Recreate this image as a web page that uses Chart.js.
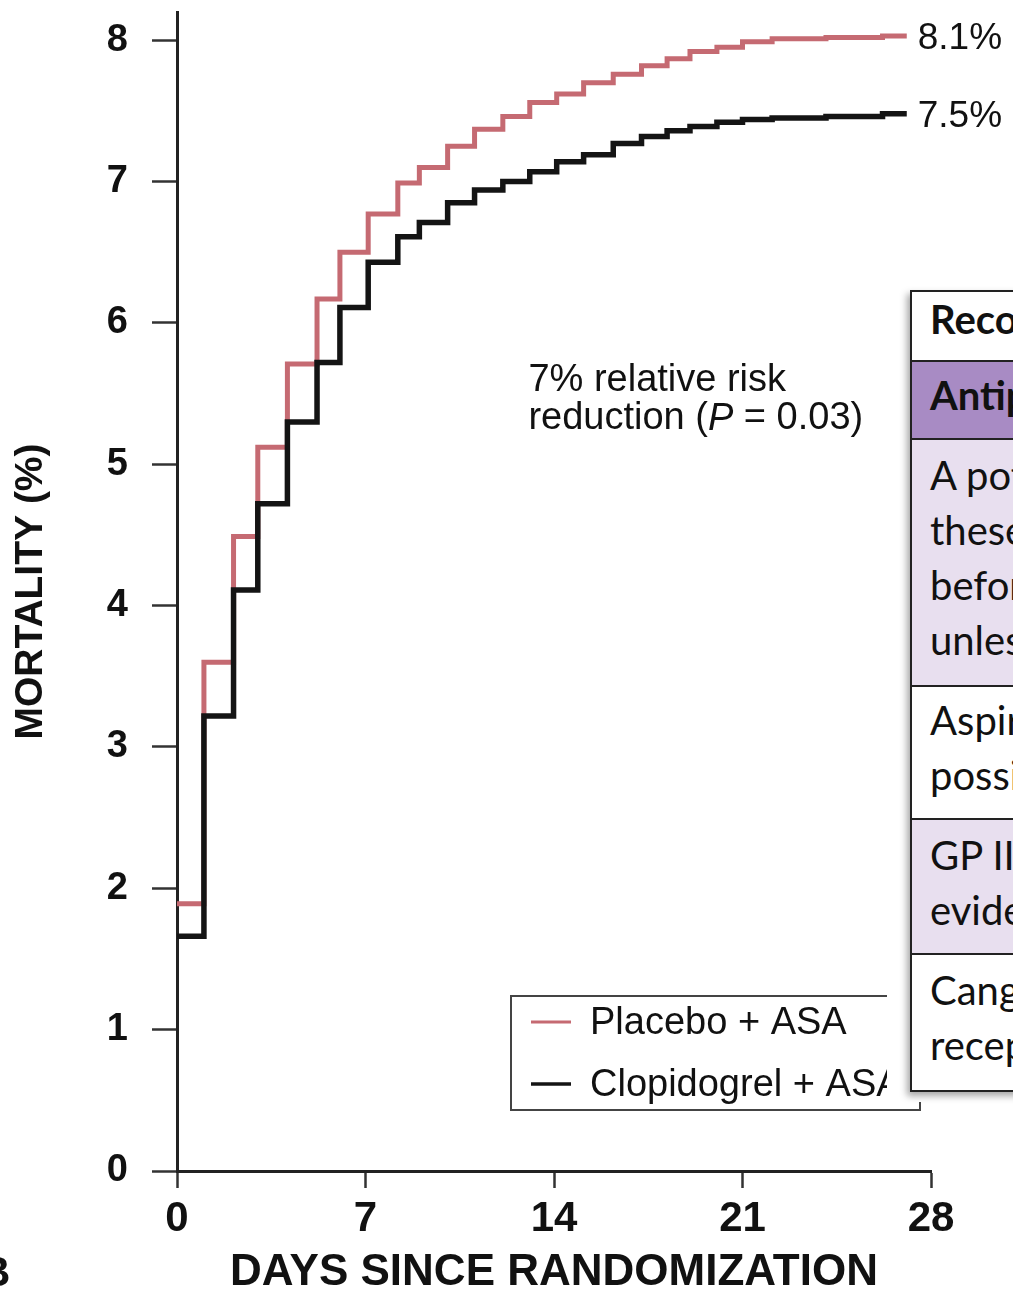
<!DOCTYPE html>
<html>
<head>
<meta charset="utf-8">
<script src="https://cdn.jsdelivr.net/npm/chart.js@4.4.1/dist/chart.umd.min.js"></script>
<style>
html,body{margin:0;padding:0;background:#fff;overflow:hidden;width:1013px;height:1289px;}
#wrap{position:absolute;left:0;top:0;width:1013px;height:1289px;}
#panel{position:absolute;left:-20px;top:1248px;font:bold 42px "Liberation Sans",Arial,sans-serif;color:#111;}
#tbl{position:absolute;left:887px;top:284px;width:400px;height:818px;background:#fff;overflow:visible;}
#tbl .t{position:absolute;left:23px;top:6px;width:360px;border-left:2px solid #222;border-top:2px solid #222;box-shadow:-3px 4px 7px rgba(0,0,0,0.35);font-family:Lato,"Open Sans",sans-serif;font-size:40px;color:#111;}
#tbl .r{box-sizing:border-box;border-bottom:2px solid #222;padding-left:18px;line-height:55px;white-space:nowrap;overflow:hidden;}
</style>
</head>
<body>
<div id="wrap"><canvas id="c" width="1013" height="1289"></canvas></div>
<div id="panel">B</div>
<div id="tbl"><div class="t">
  <div class="r" style="height:70px;padding-top:0px;font-weight:bold;background:#fff;">Recommendations</div>
  <div class="r" style="height:78px;padding-top:6px;font-weight:bold;background:#a88bc4;">Antiplatelet therapy</div>
  <div class="r" style="height:247px;padding-top:8px;background:#e8dfef;">A potent P2Y12 inhibitor<br>these patients<br>before or at the time<br>unless contraindicated</div>
  <div class="r" style="height:133px;padding-top:6px;background:#fff;">Aspirin is recommended<br>possible</div>
  <div class="r" style="height:135px;padding-top:8px;background:#e8dfef;">GP IIb/IIIa inhibitors<br>evidence of no-reflow</div>
  <div class="r" style="height:137px;padding-top:8px;background:#fff;">Cangrelor may be<br>receptor inhibitors</div>
</div></div>
<script>
// ---- data ----
const stepDays      = [0, 1, 2.1, 3, 4.1, 5.2, 6.05, 7.1, 8.2, 9.0, 10.05, 11.05, 12.1, 13.1, 14.1, 15.1, 16.2, 17.25, 18.2, 19.05, 20.05, 21.0, 22.1, 24.1, 26.2, 27.1];
const placeboASA    = [1.89, 3.60, 4.49, 5.12, 5.71, 6.17, 6.50, 6.77, 6.99, 7.10, 7.25, 7.37, 7.46, 7.56, 7.62, 7.70, 7.76, 7.82, 7.87, 7.92, 7.95, 7.99, 8.01, 8.02, 8.03, 8.03];
const clopidogrelASA= [1.66, 3.22, 4.11, 4.72, 5.30, 5.72, 6.11, 6.43, 6.61, 6.71, 6.85, 6.94, 7.00, 7.07, 7.14, 7.19, 7.27, 7.32, 7.36, 7.39, 7.42, 7.44, 7.45, 7.46, 7.48, 7.48];
const seriesNames   = ["Placebo + ASA", "Clopidogrel + ASA"];
const endLabels     = ["8.1%", "7.5%"];
const xTicks        = [0, 7, 14, 21, 28];
const yTicks        = [0, 1, 2, 3, 4, 5, 6, 7, 8];
const xTitle        = "DAYS SINCE RANDOMIZATION";
const yTitle        = "MORTALITY (%)";
const noteLine1     = "7% relative risk";
const noteLine2     = ["reduction (", "P", " = 0.03)"];

const RED = "#c56a72", BLACK = "#141414";
const toPts = vals => stepDays.map((d, i) => ({x: d, y: vals[i]}));

const annot = {
  id: 'annot',
  afterDatasetsDraw(chart) {
    const {ctx, scales: {x, y}} = chart;
    ctx.save();
    ctx.fillStyle = "#111";
    ctx.textBaseline = "middle";
    ctx.textAlign = "left";
    ctx.font = '37px "Liberation Sans", Arial, sans-serif';
    const lastX = x.getPixelForValue(stepDays[stepDays.length - 1]);
    ctx.fillText(endLabels[0], lastX + 11, y.getPixelForValue(placeboASA[placeboASA.length - 1]) + 3);
    ctx.fillText(endLabels[1], lastX + 11, y.getPixelForValue(clopidogrelASA[clopidogrelASA.length - 1]) + 3);
    // note
    const f = '38px "Liberation Sans", Arial, sans-serif';
    ctx.font = f;
    const nx = x.getPixelForValue(13.05);
    ctx.fillText(noteLine1, nx, 381);
    let cx = nx;
    ctx.fillText(noteLine2[0], cx, 419); cx += ctx.measureText(noteLine2[0]).width;
    ctx.font = 'italic ' + f;
    ctx.fillText(noteLine2[1], cx, 419); cx += ctx.measureText(noteLine2[1]).width;
    ctx.font = f;
    ctx.fillText(noteLine2[2], cx, 419);
    // legend box
    ctx.strokeStyle = "#444"; ctx.lineWidth = 2;
    ctx.strokeRect(511, 996, 409, 114);
    const rows = [[RED, 3, 1022, seriesNames[0]], [BLACK, 3.5, 1084, seriesNames[1]]];
    ctx.font = '38px "Liberation Sans", Arial, sans-serif';
    for (const [col, w, yy, txt] of rows) {
      ctx.strokeStyle = col; ctx.lineWidth = w;
      ctx.beginPath(); ctx.moveTo(531, yy); ctx.lineTo(571, yy); ctx.stroke();
      ctx.fillStyle = "#111";
      ctx.fillText(txt, 590, yy + 2);
    }
    ctx.restore();
  }
};

new Chart(document.getElementById('c'), {
  type: 'line',
  data: {
    datasets: [
      {label: seriesNames[1], data: toPts(clopidogrelASA), borderColor: BLACK, borderWidth: 5.5, stepped: true, pointRadius: 0, fill: false},
      {label: seriesNames[0], data: toPts(placeboASA), borderColor: RED, borderWidth: 5, stepped: true, pointRadius: 0, fill: false}
    ]
  },
  options: {
    responsive: false,
    animation: false,
    devicePixelRatio: 1,
    layout: {padding: {top: 12, right: 82, bottom: 0, left: 0}},
    plugins: {legend: {display: false}, tooltip: {enabled: false}},
    scales: {
      x: {
        type: 'linear', min: 0, max: 28,
        afterBuildTicks: s => { s.ticks = xTicks.map(v => ({value: v})); },
        afterFit: s => { s.height = 118; s.paddingLeft = 0; s.paddingRight = 0; },
        ticks: {color: "#111", padding: 6, maxRotation: 0, autoSkip: false,
          font: {family: '"Liberation Sans", Arial', weight: 'bold', size: 42}},
        grid: {drawOnChartArea: false, drawTicks: true, tickLength: 17, tickWidth: 2.5, tickColor: "#333"},
        border: {display: true, width: 3, color: "#222"},
        title: {display: true, text: xTitle, color: "#111", padding: 0,
          font: {family: '"Liberation Sans", Arial', weight: 'bold', size: 44, lineHeight: 0.75}}
      },
      y: {
        type: 'linear', min: 0, max: 8.2,
        afterBuildTicks: s => { s.ticks = yTicks.map(v => ({value: v})); },
        afterFit: s => { s.width = 177; s.paddingTop = 0; s.paddingBottom = 0; },
        ticks: {color: "#111", padding: 24,
          font: {family: '"Liberation Sans", Arial', weight: 'bold', size: 38}},
        grid: {drawOnChartArea: false, drawTicks: true, tickLength: 25, tickWidth: 2.5, tickColor: "#333"},
        border: {display: true, width: 3, color: "#222"},
        title: {display: true, text: yTitle, color: "#111", padding: {top: 8, bottom: 0},
          font: {family: '"Liberation Sans", Arial', weight: 'bold', size: 39, lineHeight: 1.2}}
      }
    }
  },
  plugins: [annot]
});
</script>
</body>
</html>
